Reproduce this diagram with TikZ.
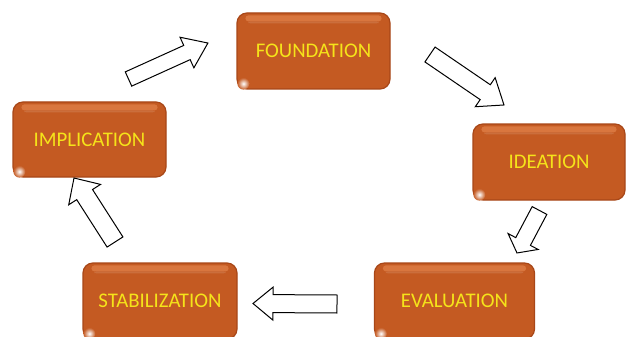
\documentclass[tikz,border=0pt]{standalone}
\usepackage{fontspec}
\setmainfont{Carlito}
\usetikzlibrary{calc}

\definecolor{boxfill}{HTML}{C45A22}
\definecolor{boxrim}{HTML}{A84718}
\definecolor{boxband}{HTML}{D9763E}
\definecolor{labelcol}{HTML}{F5E31A}

\tikzset{
  stagebox/.style={rectangle, rounded corners=10pt, fill=boxfill, draw=boxrim,
    line width=1.2pt, minimum width=153pt, minimum height=76pt,
    text=labelcol, font=\fontsize{20.8pt}{24pt}\selectfont, inner sep=0pt},
  blockarrow/.style={draw=black, line width=1pt, fill=white, line join=miter},
}

% glossy details on a stage box: light band along the top, highlight at the lower left
\newcommand\gloss[1]{%
  \fill[boxband, rounded corners=3pt]
    ([xshift=9pt,yshift=-3pt]#1.north west) rectangle ([xshift=-9pt,yshift=-9pt]#1.north east);
  \fill[boxfill!88!white, rounded corners=2pt]
    ([xshift=12pt,yshift=-9pt]#1.north west) rectangle ([xshift=-12pt,yshift=-11pt]#1.north east);
  \shade[inner color=white, outer color=boxfill]
    ([xshift=7pt,yshift=6pt]#1.south west) circle (6pt);
}

% block arrow from a tail point to a tip point:
% #3 half shaft width, #4 half head width, #5 head length
\newcommand\blockarrowdraw[5]{%
  \draw[blockarrow] let \p1=(#1), \p2=(#2),
      \n1={atan2(\y2-\y1,\x2-\x1)}, \n2={veclen(\x2-\x1,\y2-\y1)} in
    [shift={(\p1)}, rotate=\n1, x=1pt, y=1pt]
    (0,-#3) -- ({\n2-#5},-#3) -- ({\n2-#5},-#4) -- (\n2,0)
    -- ({\n2-#5},#4) -- ({\n2-#5},#3) -- (0,#3) -- cycle;}

\begin{document}
\begin{tikzpicture}[x=1pt, y=-1pt]
  \clip (0,0) rectangle (627,337);
  \fill[white] (0,0) rectangle (627,337);

  % stages
  \node[stagebox] (found) at (313.5,51) {FOUNDATION};
  \node[stagebox, minimum width=152pt] (idea) at (549,162) {IDEATION};
  \node[stagebox, minimum width=160pt] (eval) at (454.5,301) {EVALUATION};
  \node[stagebox, minimum width=154pt] (stab) at (160,301) {STABILIZATION};
  \node[stagebox, minimum height=75pt] (impl) at (89.5,139.5) {IMPLICATION};
  \foreach \b in {found,idea,eval,stab,impl} {\gloss{\b}}

  % arrow end points
  \coordinate (a1s) at (128.5,79);  \coordinate (a1e) at (208,43);
  \coordinate (a2s) at (430,54.5);  \coordinate (a2e) at (504,105);
  \coordinate (a3s) at (539.5,210.5); \coordinate (a3e) at (517,253);
  \coordinate (a4s) at (337,304);   \coordinate (a4e) at (253,303.5);
  \coordinate (a5s) at (115,242);   \coordinate (a5e) at (74,178);

  \blockarrowdraw{a1s}{a1e}{7.8}{16.8}{23}
  \blockarrowdraw{a2s}{a2e}{9}{17.6}{22.7}
  \blockarrowdraw{a3s}{a3e}{8.3}{17}{13}
  \blockarrowdraw{a4s}{a4e}{9}{16.5}{20}
  \blockarrowdraw{a5s}{a5e}{9.4}{18.9}{19.7}
\end{tikzpicture}
\end{document}
